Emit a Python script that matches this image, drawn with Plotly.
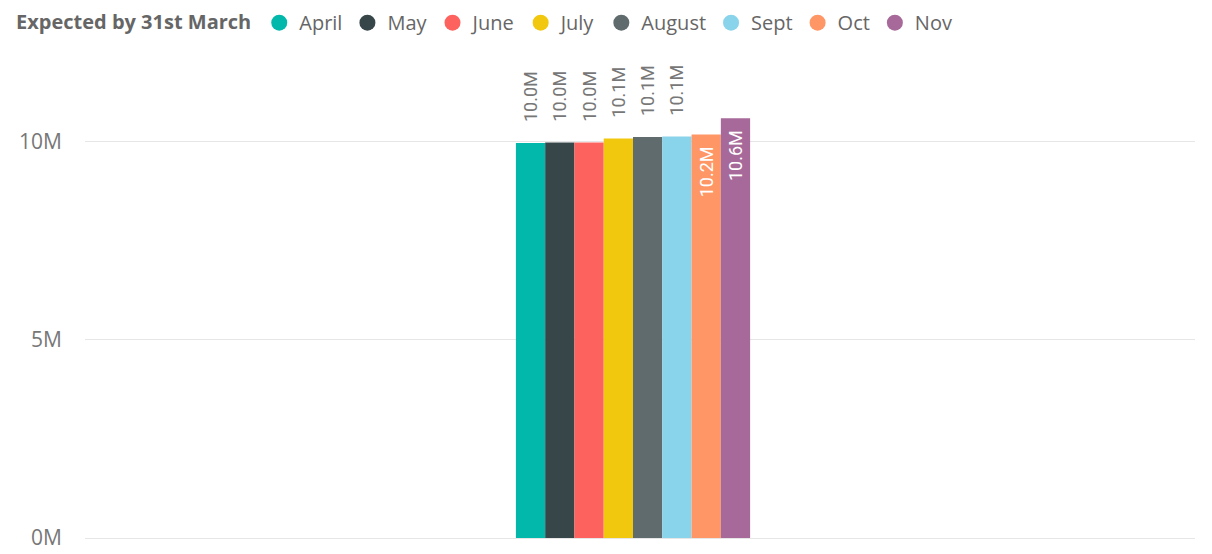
import plotly.graph_objects as go

months = ["April", "May", "June", "July", "August", "Sept", "Oct", "Nov"]
values = [9.96e6, 9.97e6, 9.97e6, 10.07e6, 10.11e6, 10.12e6, 10.17e6, 10.58e6]
colors = ["#01B8AA", "#374649", "#FD625E", "#F2C80F", "#5F6B6D", "#8AD4EB", "#FE9666", "#A66999"]
label_inside = [False, False, False, False, False, False, True, True]
tick_vals = [0, 5e6, 10e6]
tick_text = ["0M", "5M", "10M"]

FONT = "Open Sans"
NB = "\u00a0"
fig = go.Figure()
for m, v, c, ins in zip(months, values, colors, label_inside):
    core = f"{round(v/1e6, 1):.1f}M"
    # rotated -90: string start sits at the bottom, end at the top
    label = core + NB * 2 if ins else NB * 4 + core
    fig.add_trace(go.Bar(
        x=[""], y=[v], name=m, marker=dict(color=c, line=dict(width=0)),
        text=[label], textangle=-90,
        textposition="inside" if ins else "outside",
        insidetextanchor="end", constraintext="none",
        textfont=dict(family="Roboto", size=18, color="#ffffff" if ins else "#777777"),
        cliponaxis=False, showlegend=False,
    ))
    fig.add_trace(go.Scatter(
        x=[None], y=[None], mode="markers", name=m,
        marker=dict(color=c, size=20, symbol="circle"), showlegend=True,
    ))

# page body adds an 8px offset; figure is shrunk and shifted to compensate
fig.update_layout(
    width=1204, height=546,
    paper_bgcolor="white", plot_bgcolor="white",
    margin=dict(l=77, r=17, t=54, b=16, autoexpand=False),
    barmode="group", bargap=0.789, bargroupgap=0,
    font=dict(family=FONT, color="#666666", size=17),
    legend=dict(
        orientation="h", xref="container", yref="paper",
        x=0.005, y=1.1236, xanchor="left", yanchor="top",
        title=dict(text="<b>Expected by 31st March</b>", font=dict(size=20, color="#666666")),
        font=dict(size=20, color="#666666"),
        itemwidth=30, tracegroupgap=0,
    ),
    xaxis=dict(type="category", range=[-0.4937, 0.5063], showticklabels=False,
               showgrid=False, zeroline=False, showline=False),
    yaxis=dict(range=[0, 12e6], tickvals=tick_vals, ticktext=tick_text,
               showgrid=True, gridcolor="#e6e6e6", gridwidth=1,
               zeroline=True, zerolinecolor="#e6e6e6", zerolinewidth=1,
               showline=False, ticks="", ticklabelstandoff=22,
               tickfont=dict(size=21, color="#777777")),
)

fig.write_html("out.html")
